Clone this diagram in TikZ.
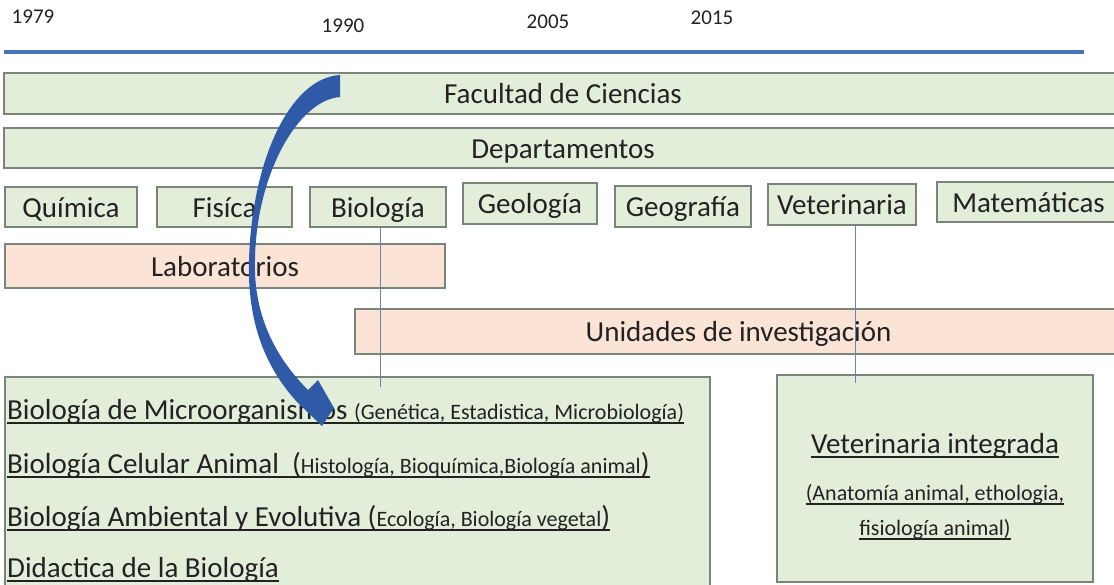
\documentclass[tikz,border=0pt]{standalone}
\usepackage{fontspec}
\setmainfont{Carlito}
\definecolor{boxgreen}{HTML}{E2EEDA}
\definecolor{boxpink}{HTML}{FBE3D6}
\definecolor{bordergray}{HTML}{7A847A}
\definecolor{timeline}{HTML}{4A72B8}
\definecolor{arrowblue}{HTML}{2F5AA8}
\definecolor{connblue}{HTML}{6C84A8}
\definecolor{txt}{HTML}{222222}
\newcommand\bigtxt{\fontsize{29}{33}\selectfont}
\newcommand\smtxt{\fontsize{22}{25}\selectfont}
\newcommand\yrtxt{\fontsize{21}{24}\selectfont}
\newcommand\myul[1]{\leavevmode\setbox0\hbox{#1}\rlap{\color{txt}\rule[-5pt]{\wd0}{1.8pt}}\box0}
\begin{document}
\begin{tikzpicture}[x=1pt,y=-1pt,
  every node/.style={text=txt},
  gbox/.style={draw=bordergray, fill=boxgreen, line width=1.3pt, inner sep=0pt, font=\bigtxt, text height=20pt, text depth=0pt},
  pbox/.style={draw=bordergray, fill=boxpink, line width=1.3pt, inner sep=0pt, font=\bigtxt, text height=20pt, text depth=0pt},
  yr/.style={font=\yrtxt, inner sep=0pt},
  conn/.style={draw=connblue, line width=0.9pt},
  biotxt/.style={anchor=base west, inner sep=0pt, font=\bigtxt},
  vettxt/.style={anchor=base, inner sep=0pt}
]
\useasboundingbox (0,0) rectangle (1114,584);
\clip (0,0) rectangle (1114,584);
\fill[white] (0,0) rectangle (1114,584);

% years and timeline
\node[yr] (y1979) at (33,17) {1979};
\node[yr] (y1990) at (343,26) {1990};
\node[yr] (y2005) at (548,22) {2005};
\node[yr] (y2015) at (712,18) {2015};
\coordinate (tlA) at (4,52);
\coordinate (tlB) at (1084,52);
\draw[timeline, line width=4pt] (tlA) -- (tlB);

% wide boxes
\node[gbox, minimum width=1118, minimum height=41] (fac) at (563,93.5) {Facultad de Ciencias};
\node[gbox, minimum width=1118, minimum height=40] (dep) at (563,148) {Departamentos};

% departments
\node[gbox, minimum width=132, minimum height=40] (qui) at (71,207) {Química};
\node[gbox, minimum width=135, minimum height=40] (fis) at (224.5,207) {Fisíca};
\node[gbox, minimum width=136, minimum height=40] (bio) at (378,207) {Biología};
\node[gbox, minimum width=134, minimum height=41] (geo) at (530,203.5) {Geología};
\node[gbox, minimum width=136, minimum height=41] (geog) at (683,206.5) {Geografía};
\node[gbox, minimum width=148, minimum height=41] (vet) at (842,204.5) {Veterinaria};
\node[gbox, minimum width=183, minimum height=40] (mat) at (1028.5,202) {Matemáticas};

% labs and units
\node[pbox, minimum width=440, minimum height=44] (lab) at (225,266) {Laboratorios};
\node[pbox, minimum width=767, minimum height=45] (uni) at (738.5,331.5) {Unidades de investigación};

% bottom boxes
\node[gbox, minimum width=705, minimum height=215] (biobox) at (357.5,484.5) {};
\node[gbox, minimum width=316, minimum height=207] (vetbox) at (935,478.5) {};

% connectors
\coordinate (bioend) at (380,387);
\coordinate (vetend) at (855,383);
\draw[conn] (bioend |- bio.south) -- (bioend);
\draw[conn] (vetend |- vet.south) -- (vetend);

% biology units text
\node[biotxt] (b1) at (7,419) {\myul{Biología de Microorganismos {\smtxt(Genética, Estadistica, Microbiología)}}};
\node[biotxt] (b2) at (7,473) {\myul{Biología Celular Animal\ \ ({\smtxt Histología, Bioquímica,Biología animal})}};
\node[biotxt] (b3) at (7,526) {\myul{Biología Ambiental y Evolutiva ({\smtxt Ecología, Biología vegetal})}};
\node[biotxt] (b4) at (7,577) {\myul{Didactica de la Biología}};

% veterinary text
\node[vettxt, font=\bigtxt] (v1) at (935,453) {\myul{Veterinaria integrada}};
\node[vettxt, font=\smtxt] (v2) at (935,500) {\myul{(Anatomía animal, ethologia,}};
\node[vettxt, font=\smtxt] (v3) at (935,535) {\myul{fisiología animal)}};

% curved block arrow
\fill[arrowblue] (340,75) .. controls (290,78) and (252,160) .. (249,260)
  .. controls (247,330) and (270,372) .. (297,402)
  -- (322,426) -- (334,408) -- (318,380) -- (308,390)
  .. controls (280,362) and (253,320) .. (255,260)
  .. controls (256,175) and (298,100) .. (340,97) -- cycle;
\end{tikzpicture}
\end{document}
